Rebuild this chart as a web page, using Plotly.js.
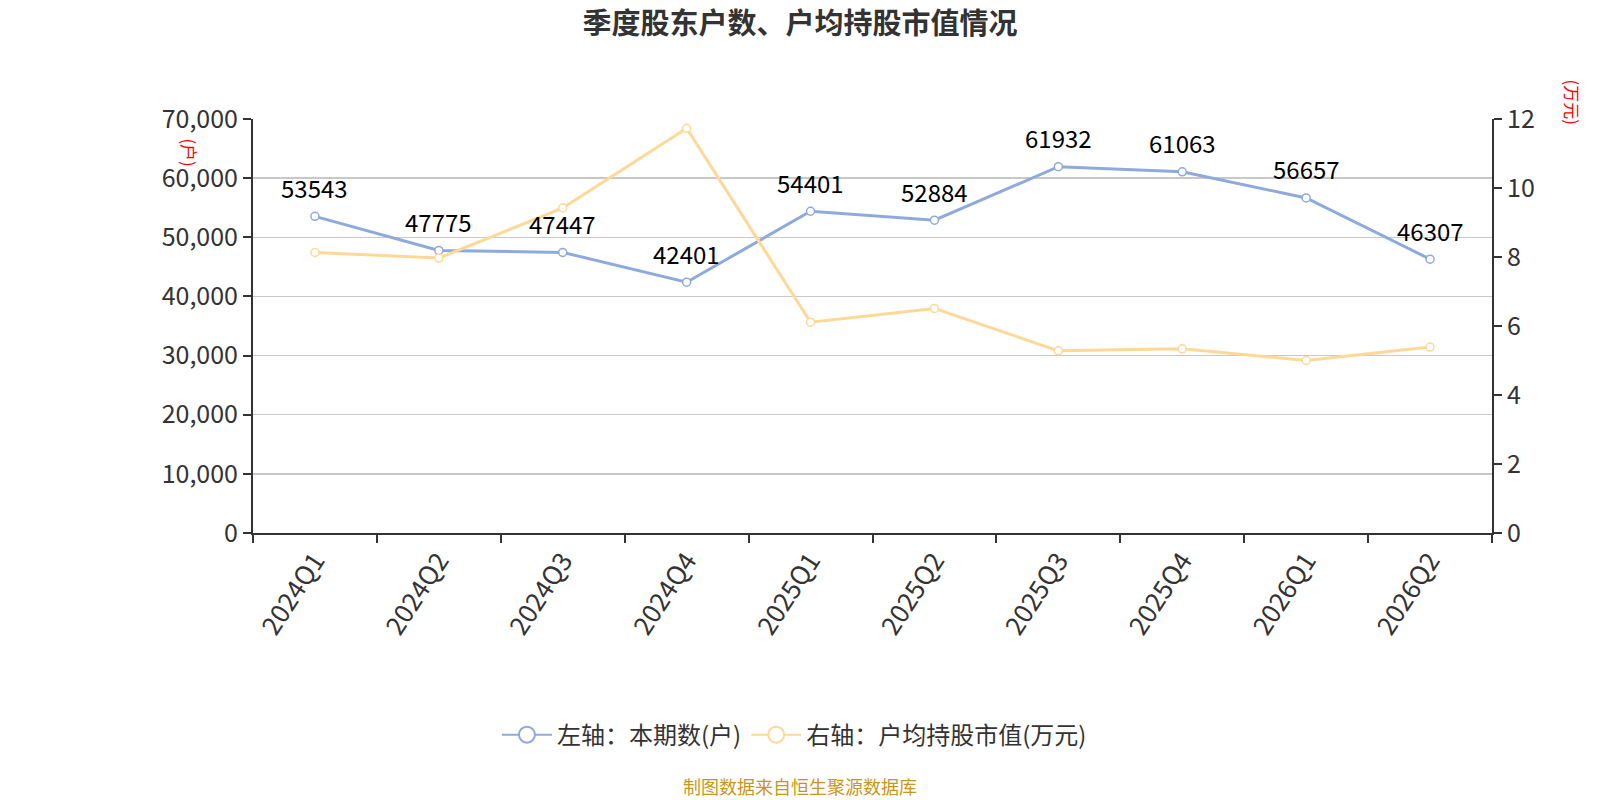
<!DOCTYPE html>
<html>
<head>
<meta charset="utf-8">
<script src="https://cdn.plot.ly/plotly-3.0.1.min.js"></script>
<style>
  html, body { margin: 0; padding: 0; background: #fff; }
  #chart { width: 1600px; height: 800px; }
</style>
</head>
<body>
<div id="chart"></div>
<script>
// quarters on the x axis
var quarters = ['2024Q1', '2024Q2', '2024Q3', '2024Q4', '2025Q1', '2025Q2', '2025Q3', '2025Q4', '2026Q1', '2026Q2'];
// left axis: shareholder count (户)
var holders = [53543, 47775, 47447, 42401, 54401, 52884, 61932, 61063, 56657, 46307];
// right axis: average holding value per account (万元)
var avgValue = [8.13, 7.97, 9.42, 11.73, 6.11, 6.51, 5.28, 5.34, 5.0, 5.39];

var leftTicks = [0, 10000, 20000, 30000, 40000, 50000, 60000, 70000];
var rightTicks = [0, 2, 4, 6, 8, 10, 12];

var blue = '#8eaadc';
var yellow = '#ffd898';
var font = '"Noto Sans CJK SC", "Noto Sans", sans-serif';

var trace1 =
{
    x: quarters,
    y: holders,
    name: '左轴：本期数(户)',
    type: 'scatter',
    mode: 'lines+markers',
    line: {color: blue, width: 3},
    marker: {symbol: 'circle', size: 8, color: '#fff', line: {color: blue, width: 1.5}},
    cliponaxis: false,
    showlegend: false
};
var trace2 =
{
    x: quarters,
    y: avgValue,
    yaxis: 'y2',
    name: '右轴：户均持股市值(万元)',
    type: 'scatter',
    mode: 'lines+markers',
    line: {color: yellow, width: 3},
    marker: {symbol: 'circle', size: 8, color: '#fff', line: {color: yellow, width: 1.5}},
    cliponaxis: false,
    showlegend: false
};
// legend-only entries, so the legend symbol can be drawn larger
var legend1 =
{
    x: [null], y: [null],
    name: trace1.name,
    type: 'scatter', mode: 'lines+markers',
    line: {color: blue, width: 2},
    marker: {symbol: 'circle', size: 16, color: '#fff', line: {color: blue, width: 2}}
};
var legend2 =
{
    x: [null], y: [null],
    name: trace2.name,
    type: 'scatter', mode: 'lines+markers',
    line: {color: yellow, width: 2},
    marker: {symbol: 'circle', size: 16, color: '#fff', line: {color: yellow, width: 2}}
};

// value labels above the blue points
var labels = [];
for (var iii = 0; iii < quarters.length; iii++)
{
    labels.push({
        x: quarters[iii], y: holders[iii],
        xref: 'x', yref: 'y',
        text: String(holders[iii]),
        showarrow: false,
        yanchor: 'middle', yshift: 29,
        font: {size: 24, color: '#000', family: font}
    });
}

var layout =
{
    width: 1600,
    height: 800,
    paper_bgcolor: '#fff',
    plot_bgcolor: '#fff',
    font: {family: font, color: '#333'},
    margin: {l: 253, r: 108, t: 119, b: 267},
    title: {
        text: '<b>季度股东户数、户均持股市值情况</b>',
        font: {size: 29, color: '#333', family: font},
        x: 0.5, xanchor: 'center',
        y: 0.97, yanchor: 'middle'
    },
    showlegend: true,
    legend: {
        orientation: 'h',
        x: 0.437, xanchor: 'center',
        y: -0.488, yanchor: 'middle',
        itemwidth: 50,
        font: {size: 24, color: '#333', family: font}
    },
    xaxis: {
        type: 'category',
        range: [-0.5, quarters.length - 0.5],
        showline: true, linecolor: '#333', linewidth: 2,
        ticks: 'outside', tickson: 'boundaries', ticklen: 8, tickcolor: '#333', tickwidth: 2,
        tickangle: -57,
        tickfont: {size: 26, color: '#333', family: font},
        showgrid: false,
        zeroline: false
    },
    yaxis: {
        range: [0, 70000],
        tickvals: leftTicks,
        tickformat: ',d',
        showline: true, linecolor: '#333', linewidth: 2,
        ticks: 'outside', ticklen: 8, tickcolor: '#333', tickwidth: 2,
        tickfont: {size: 25, color: '#333', family: font},
        showgrid: true, gridcolor: '#c8c8c8', gridwidth: 1.5,
        zeroline: false
    },
    yaxis2: {
        overlaying: 'y',
        side: 'right',
        range: [0, 12],
        tickvals: rightTicks,
        showline: true, linecolor: '#333', linewidth: 2,
        ticks: 'outside', ticklen: 8, tickcolor: '#333', tickwidth: 2,
        tickfont: {size: 25, color: '#333', family: font},
        showgrid: false,
        zeroline: false
    },
    annotations: labels.concat([
        {
            text: '(户)', textangle: 90,
            xref: 'paper', yref: 'paper',
            x: -0.052, y: 0.918, xanchor: 'center', yanchor: 'middle',
            showarrow: false,
            font: {size: 17, color: '#ff0000', family: font}
        },
        {
            text: '(万元)', textangle: 90,
            xref: 'paper', yref: 'paper',
            x: 1.065, y: 1.041, xanchor: 'center', yanchor: 'middle',
            showarrow: false,
            font: {size: 17, color: '#ff0000', family: font}
        },
        {
            text: '制图数据来自恒生聚源数据库',
            xref: 'paper', yref: 'paper',
            x: 0.4415, y: -0.612, xanchor: 'center', yanchor: 'middle',
            borderpad: 0,
            showarrow: false,
            font: {size: 18, color: '#c8961e', family: font}
        }
    ])
};

Plotly.newPlot('chart', [trace1, trace2, legend1, legend2], layout, {displayModeBar: false, staticPlot: true});
</script>
</body>
</html>
